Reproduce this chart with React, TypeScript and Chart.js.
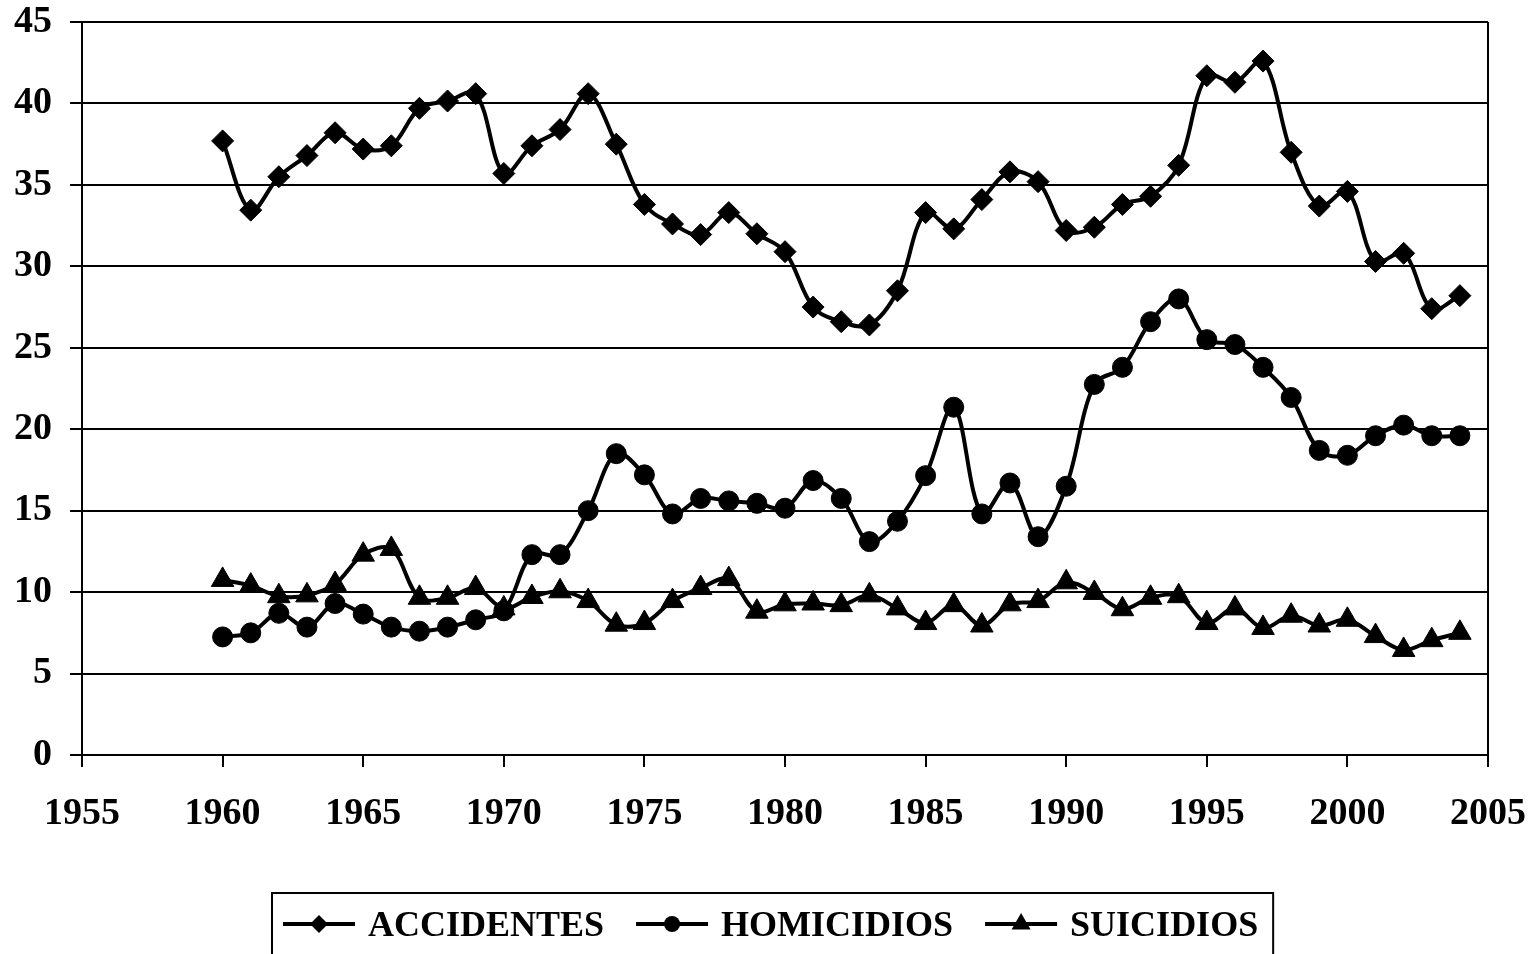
import React, { useEffect, useRef } from "react";
import { Chart, registerables } from "chart.js";

Chart.register(...registerables);

const years = [
  1960, 1961, 1962, 1963, 1964, 1965, 1966, 1967, 1968, 1969,
  1970, 1971, 1972, 1973, 1974, 1975, 1976, 1977, 1978, 1979,
  1980, 1981, 1982, 1983, 1984, 1985, 1986, 1987, 1988, 1989,
  1990, 1991, 1992, 1993, 1994, 1995, 1996, 1997, 1998, 1999,
  2000, 2001, 2002, 2003, 2004,
];

const accidentes = [
  37.7, 33.45, 35.5, 36.8, 38.2, 37.2, 37.4, 39.7, 40.15, 40.6,
  35.7, 37.4, 38.4, 40.6, 37.5, 33.8, 32.6, 31.95, 33.3, 32.0,
  30.9, 27.5, 26.6, 26.4, 28.5, 33.3, 32.3, 34.1, 35.8, 35.2,
  32.2, 32.4, 33.8, 34.3, 36.2, 41.7, 41.3, 42.6, 37.0, 33.7,
  34.6, 30.3, 30.8, 27.4, 28.2,
];

const homicidios = [
  7.25, 7.5, 8.7, 7.85, 9.3, 8.65, 7.85, 7.6, 7.85, 8.3,
  8.85, 12.3, 12.3, 15.0, 18.5, 17.2, 14.8, 15.75, 15.6, 15.45,
  15.15, 16.85, 15.75, 13.1, 14.35, 17.15, 21.35, 14.8, 16.7, 13.4,
  16.5, 22.75, 23.8, 26.6, 28.0, 25.5, 25.2, 23.8, 21.95, 18.7,
  18.4, 19.6, 20.25, 19.6, 19.6,
];

const suicidios = [
  10.75, 10.4, 9.75, 9.8, 10.5, 12.3, 12.65, 9.65, 9.65, 10.25,
  9.0, 9.7, 10.05, 9.45, 8.0, 8.1, 9.45, 10.25, 10.8, 8.8,
  9.25, 9.3, 9.2, 9.8, 9.0, 8.1, 9.2, 7.95, 9.25, 9.45,
  10.6, 9.95, 8.95, 9.65, 9.75, 8.1, 9.0, 7.8, 8.55, 7.95,
  8.3, 7.3, 6.45, 7.05, 7.5,
];

const seriesLabels = ["ACCIDENTES", "HOMICIDIOS", "SUICIDIOS"];
const seriesMarkers = ["rectRot", "circle", "triangle"];

const xMin = 1955;
const xMax = 2005;
const xStep = 5;
const yMin = 0;
const yMax = 45;
const yStep = 5;

const FONT_FAMILY = '"Liberation Serif", "Times New Roman", serif';

function drawMarker(ctx: CanvasRenderingContext2D, style: string, x: number, y: number) {
  ctx.beginPath();
  if (style === "rectRot") {
    const r = 9;
    ctx.moveTo(x - r, y);
    ctx.lineTo(x, y - r);
    ctx.lineTo(x + r, y);
    ctx.lineTo(x, y + r);
    ctx.closePath();
  } else if (style === "circle") {
    ctx.arc(x, y, 8, 0, Math.PI * 2);
  } else {
    const r = 11;
    ctx.moveTo(x, y - r);
    ctx.lineTo(x + r * 0.866, y + r * 0.5);
    ctx.lineTo(x - r * 0.866, y + r * 0.5);
    ctx.closePath();
  }
  ctx.fill();
}

const boxLegend = {
  id: "boxLegend",
  afterDraw(chart: any) {
    const ctx: CanvasRenderingContext2D = chart.ctx;
    ctx.save();
    ctx.font = `bold 36px ${FONT_FAMILY}`;
    const symW = 72;
    const gapT = 13;
    const gapI = 32;
    const padL = 11;
    const padR = 15;
    const items = chart.data.datasets.map((ds: any) => ({
      label: ds.label as string,
      style: ds.pointStyle as string,
      w: ctx.measureText(ds.label).width,
    }));
    let content = 0;
    items.forEach((it: any, i: number) => {
      content += symW + gapT + it.w + (i < items.length - 1 ? gapI : 0);
    });
    const boxW = padL + content + padR;
    const left = Math.round(773 - boxW / 2);
    const top = 893;
    ctx.strokeStyle = "#000";
    ctx.lineWidth = 2;
    ctx.strokeRect(left, top, boxW, 90);
    let x = left + padL;
    const yLine = 924;
    ctx.fillStyle = "#000";
    items.forEach((it: any) => {
      ctx.beginPath();
      ctx.lineWidth = 4;
      ctx.moveTo(x, yLine);
      ctx.lineTo(x + symW, yLine);
      ctx.stroke();
      drawMarker(ctx, it.style, x + symW / 2, yLine);
      ctx.textAlign = "left";
      ctx.textBaseline = "alphabetic";
      ctx.fillText(it.label, x + symW + gapT, 936);
      x += symW + gapT + it.w + gapI;
    });
    ctx.restore();
  },
};

export default function App() {
  const canvasRef = useRef<HTMLCanvasElement | null>(null);

  useEffect(() => {
    document.body.style.margin = "0";
    const canvas = canvasRef.current;
    if (!canvas) return;

    const seriesValues = [accidentes, homicidios, suicidios];
    const radii = [11, 10, 13];

    const datasets = seriesLabels.map((label, i) => ({
      label,
      data: years.map((yr, j) => ({ x: yr, y: seriesValues[i][j] })),
      borderColor: "#000",
      backgroundColor: "#000",
      borderWidth: 4,
      pointStyle: seriesMarkers[i],
      pointRadius: radii[i],
      pointBorderWidth: 1,
      pointBackgroundColor: "#000",
      pointBorderColor: "#000",
      tension: 0.35,
      fill: false,
    }));

    const tickFont = { family: FONT_FAMILY, size: 38, weight: "bold" as const, lineHeight: 1 };

    const zeroPad = (scale: any) => {
      scale.paddingTop = 0;
      scale.paddingBottom = 0;
      scale.paddingLeft = 0;
      scale.paddingRight = 0;
    };

    const chart = new Chart(canvas, {
      type: "line",
      data: { datasets },
      options: {
        animation: false,
        responsive: false,
        devicePixelRatio: 1,
        layout: { padding: { left: 0, right: 48, top: 22, bottom: 0 } },
        plugins: {
          legend: { display: false },
          tooltip: { enabled: false },
        },
        scales: {
          x: {
            type: "linear",
            min: xMin,
            max: xMax,
            afterFit: (scale: any) => {
              scale.height = 954 - 755;
              zeroPad(scale);
            },
            ticks: {
              stepSize: xStep,
              color: "#000",
              font: tickFont,
              padding: 28,
              maxRotation: 0,
              autoSkip: false,
              callback: (v: any) => String(v),
            },
            grid: {
              drawOnChartArea: true,
              color: (c: any) => (c.tick && c.tick.value === xMax ? "#000" : "rgba(0,0,0,0)"),
              tickColor: "#000",
              tickLength: 12,
              lineWidth: 2,
            },
            border: { display: true, color: "#000", width: 2 },
          },
          y: {
            type: "linear",
            min: yMin,
            max: yMax,
            afterFit: (scale: any) => {
              scale.width = 82;
              zeroPad(scale);
            },
            ticks: {
              stepSize: yStep,
              color: "#000",
              font: tickFont,
              padding: 18,
            },
            grid: {
              color: "#000",
              tickColor: "#000",
              tickLength: 12,
              lineWidth: 2,
            },
            border: { display: true, color: "#000", width: 2 },
          },
        },
      },
      plugins: [boxLegend],
    } as any);

    return () => {
      chart.destroy();
    };
  }, []);

  return (
    <div style={{ width: 1536, height: 954, position: "relative", background: "#fff" }}>
      <canvas ref={canvasRef} width={1536} height={954} style={{ display: "block" }} />
    </div>
  );
}
